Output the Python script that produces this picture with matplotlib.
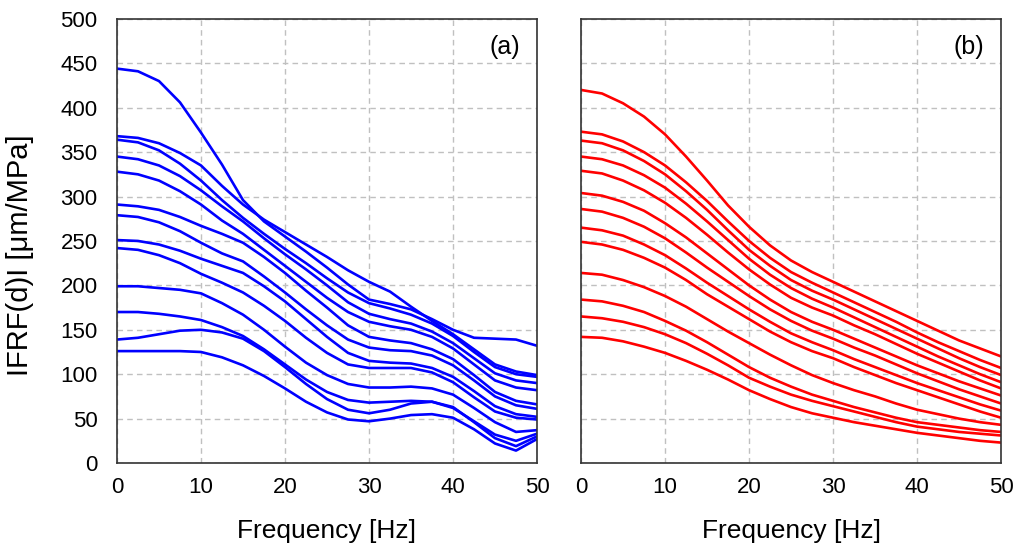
import matplotlib
matplotlib.use("Agg")
import matplotlib.pyplot as plt
import numpy as np

plt.rcParams['font.family'] = ['Liberation Sans', 'DejaVu Sans']

freq = [0, 2.5, 5, 7.5, 10, 12.5, 15, 17.5, 20, 22.5, 25,
        27.5, 30, 32.5, 35, 37.5, 40, 42.5, 45, 47.5, 50]

# panel (a), blue curves
curves_a = [
    [444, 441, 430, 406, 372, 336, 296, 272, 255, 238, 220, 201, 184, 179, 173, 162, 150, 141, 140, 139, 132],
    [368, 366, 360, 349, 335, 312, 291, 274, 260, 246, 232, 217, 204, 193, 176, 160, 145, 128, 111, 103, 99],
    [364, 361, 352, 337, 318, 296, 276, 258, 241, 225, 208, 192, 180, 174, 167, 157, 143, 125, 108, 100, 97],
    [345, 342, 335, 323, 307, 289, 272, 253, 235, 218, 200, 181, 168, 162, 157, 148, 135, 118, 101, 93, 90],
    [328, 325, 318, 306, 291, 273, 258, 240, 222, 204, 186, 170, 159, 154, 150, 142, 129, 111, 93, 85, 82],
    [291, 289, 285, 277, 267, 258, 248, 232, 214, 194, 175, 155, 142, 138, 135, 128, 117, 99, 80, 70, 66],
    [279, 277, 271, 261, 248, 236, 227, 210, 192, 173, 155, 139, 130, 127, 126, 121, 110, 93, 75, 65, 61],
    [251, 250, 246, 239, 230, 222, 214, 199, 182, 162, 142, 124, 115, 113, 112, 107, 97, 81, 64, 55, 52],
    [242, 240, 234, 225, 213, 203, 192, 177, 160, 141, 124, 111, 107, 107, 107, 102, 91, 74, 58, 51, 49],
    [199, 199, 197, 195, 191, 180, 167, 150, 131, 113, 99, 89, 85, 85, 86, 84, 77, 62, 46, 35, 37],
    [170, 170, 168, 165, 161, 153, 143, 128, 111, 94, 80, 71, 68, 69, 70, 69, 62, 47, 32, 25, 33],
    [139, 141, 145, 149, 150, 147, 140, 126, 108, 89, 72, 60, 56, 60, 67, 69, 63, 46, 28, 19, 30],
    [126, 126, 126, 126, 125, 119, 110, 98, 84, 69, 57, 49, 47, 50, 54, 55, 51, 38, 22, 14, 27],
]

# panel (b), red curves
curves_b = [
    [420, 416, 405, 390, 370, 345, 318, 290, 266, 245, 228, 215, 204, 193, 182, 171, 160, 149, 138, 129, 120],
    [373, 370, 362, 350, 335, 316, 295, 272, 250, 231, 215, 203, 192, 181, 170, 159, 147, 136, 126, 116, 107],
    [363, 360, 352, 340, 325, 306, 285, 262, 240, 222, 206, 194, 184, 173, 162, 151, 140, 129, 118, 108, 99],
    [345, 342, 335, 324, 310, 292, 272, 251, 230, 212, 197, 185, 175, 164, 153, 142, 131, 120, 110, 100, 91],
    [329, 326, 318, 307, 293, 276, 257, 237, 218, 201, 186, 175, 166, 155, 145, 134, 123, 113, 103, 93, 84],
    [304, 301, 294, 284, 270, 254, 236, 218, 200, 184, 170, 159, 150, 140, 130, 120, 110, 101, 92, 84, 76],
    [286, 283, 276, 266, 253, 237, 220, 204, 188, 173, 160, 149, 140, 130, 121, 111, 101, 92, 83, 75, 67],
    [265, 262, 256, 246, 234, 219, 203, 188, 173, 159, 146, 136, 127, 117, 108, 99, 90, 82, 74, 66, 59],
    [249, 246, 240, 231, 220, 206, 190, 176, 162, 148, 136, 126, 118, 108, 99, 90, 82, 74, 66, 58, 51],
    [214, 212, 206, 198, 188, 176, 162, 148, 135, 122, 110, 99, 90, 82, 75, 67, 60, 55, 50, 46, 43],
    [184, 182, 177, 170, 160, 149, 136, 122, 108, 96, 86, 77, 70, 63, 57, 51, 46, 43, 40, 37, 35],
    [165, 163, 159, 153, 145, 135, 123, 110, 96, 86, 77, 70, 64, 58, 52, 46, 41, 38, 35, 33, 31],
    [142, 141, 137, 131, 124, 115, 105, 94, 82, 72, 63, 56, 51, 46, 42, 38, 34, 31, 28, 25, 23],
]

fig = plt.figure(figsize=(10.19, 5.49), dpi=100)
ax_a = fig.add_axes([0.1148, 0.1566, 0.4122, 0.809])
ax_b = fig.add_axes([0.5702, 0.1566, 0.4122, 0.809])

for ax, curves, col, tag in [(ax_a, curves_a, 'blue', '(a)'), (ax_b, curves_b, 'red', '(b)')]:
    for c in curves:
        ax.plot(freq, c, color=col, lw=1.9)
    ax.set_xlim(0, 50)
    ax.set_ylim(0, 500)
    ax.set_xticks(range(0, 51, 10))
    ax.set_yticks(range(0, 501, 50))
    ax.grid(True, color='#c0c0c0', ls=(0, (4, 3)), lw=1.0)
    ax.set_axisbelow(True)
    ax.tick_params(length=0, labelsize=16)
    ax.tick_params(axis='y', pad=14)
    ax.tick_params(axis='x', pad=10)
    for s in ax.spines.values():
        s.set_color('#333333')
        s.set_linewidth(1.2)
    ax.set_xlabel('Frequency [Hz]', fontsize=19, labelpad=15)
    ax.text(0.924, 0.937, tag, transform=ax.transAxes, fontsize=18,
            ha='center', va='center')

ax_b.tick_params(labelleft=False)
ax_a.set_ylabel('IFRF(d)I [μm/MPa]', fontsize=21)
ax_a.yaxis.set_label_coords(-0.197, 0.468)

plt.savefig('out.png', dpi=100)
